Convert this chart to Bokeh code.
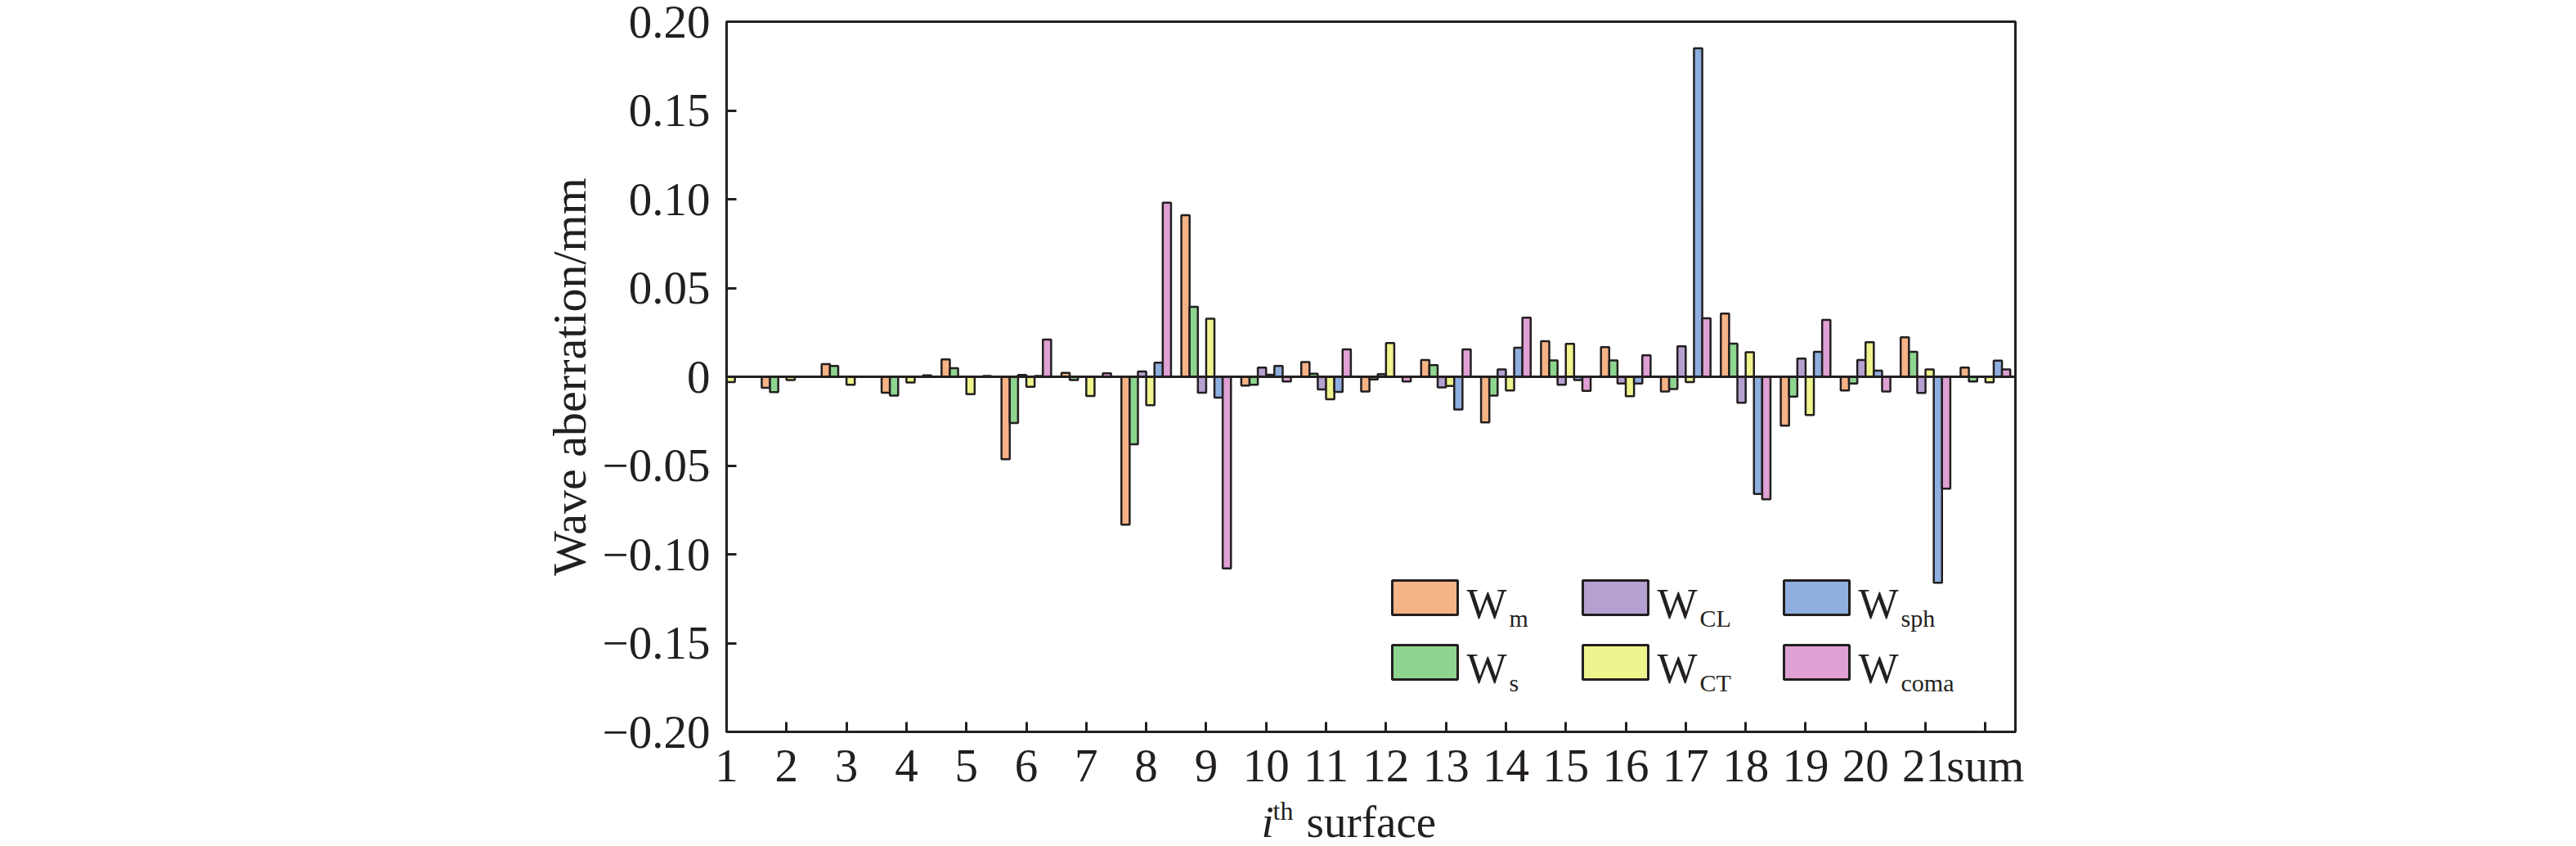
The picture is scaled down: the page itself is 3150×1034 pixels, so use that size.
from bokeh.plotting import figure
from bokeh.layouts import column
from bokeh.models import ColumnDataSource, Range1d, FixedTicker, Span, BoxAnnotation, Label
from bokeh.core.properties import value
from bokeh.transform import dodge
from bokeh.embed import file_html
from bokeh.resources import INLINE

# ---------------- data ----------------
surfaces = ["1", "2", "3", "4", "5", "6", "7", "8", "9", "10", "11", "12", "13",
            "14", "15", "16", "17", "18", "19", "20", "21", "sum"]

W_m    = [0.0, -0.0062, 0.0072, -0.0090, 0.0098, -0.0464, 0.0022, -0.0833, 0.0910, -0.0049, 0.0083,
          -0.0083, 0.0094, -0.0257, 0.0200, 0.0167, -0.0083, 0.0356, -0.0275, -0.0077, 0.0222, 0.0052]
W_s    = [0.0, -0.0086, 0.0061, -0.0106, 0.0048, -0.0260, -0.0018, -0.0380, 0.0394, -0.0045, 0.0017,
          -0.0015, 0.0066, -0.0106, 0.0092, 0.0092, -0.0069, 0.0187, -0.0112, -0.0038, 0.0141, -0.0026]
W_CL   = [0.0, 0.0, 0.0, 0.0, 0.0, 0.0010, 0.0, 0.0030, -0.0090, 0.0052, -0.0072,
          0.0015, -0.0060, 0.0041, -0.0045, -0.0038, 0.0172, -0.0146, 0.0103, 0.0094, -0.0091, 0.0]
W_CT   = [-0.0030, -0.0018, -0.0045, -0.0032, -0.0098, -0.0057, -0.0108, -0.0160, 0.0327, 0.0012, -0.0127,
          0.0190, -0.0052, -0.0077, 0.0186, -0.0110, -0.0030, 0.0138, -0.0215, 0.0195, 0.0042, -0.0031]
W_sph  = [0.0, 0.0, 0.0, 0.0, 0.0, 0.0005, 0.0, 0.0080, -0.0118, 0.0061, -0.0085,
          0.0, -0.0184, 0.0164, -0.0018, -0.0038, 0.1850, -0.0660, 0.0140, 0.0034, -0.1160, 0.0091]
W_coma = [0.0, 0.0, 0.0, 0.0008, 0.0005, 0.0210, 0.0020, 0.0980, -0.1080, -0.0026, 0.0154,
          -0.0026, 0.0154, 0.0333, -0.0080, 0.0121, 0.0329, -0.0690, 0.0320, -0.0083, -0.0630, 0.0041]

series_keys = ["W_m", "W_s", "W_CL", "W_CT", "W_sph", "W_coma"]
series_main = ["W", "W", "W", "W", "W", "W"]
series_sub = ["m", "s", "CL", "CT", "sph", "coma"]
colors = ["#F5B386", "#8ED58F", "#B5A1D1", "#EFF58E", "#8FAFE0", "#DFA0D4"]

y_ticks = [-0.2, -0.15, -0.1, -0.05, 0, 0.05, 0.1, 0.15, 0.2]
y_tick_labels = ["\u22120.20", "\u22120.15", "\u22120.10", "\u22120.05", "0", "0.05", "0.10", "0.15", "0.20"]

x_label_parts = ["i", "th", "surface"]

FONT = "Liberation Serif"
EDGE = "#231F20"
BAR_W = 0.138

pos = list(range(len(surfaces)))
source = ColumnDataSource(dict(pos=pos, W_m=W_m, W_s=W_s, W_CL=W_CL, W_CT=W_CT,
                               W_sph=W_sph, W_coma=W_coma))

# ---------------- main figure ----------------
W = 3150
H1, H2 = 974, 60
FL, FR, FT, FB = 888, 2464, 26, 894          # frame edges in page pixels
p = figure(width=W, height=H1, output_backend="svg", toolbar_location=None,
           x_range=Range1d(0, 21.5), y_range=Range1d(-0.2, 0.2),
           min_border_left=FL, min_border_right=W - FR, min_border_top=FT,
           min_border_bottom=H1 - FB)
p.background_fill_color = "white"
p.border_fill_color = "white"
p.xgrid.visible = False
p.ygrid.visible = False
p.outline_line_color = EDGE
p.outline_line_width = 3

for k, key in enumerate(series_keys):
    p.vbar(x=dodge("pos", (k - 2.5) * BAR_W, range=p.x_range), top=key, bottom=0,
           width=BAR_W, source=source, fill_color=colors[k], line_color=EDGE, line_width=2.5)

p.add_layout(Span(location=0, dimension="width", line_color=EDGE, line_width=3))

# axes
p.xaxis.ticker = FixedTicker(ticks=pos)
p.xaxis.major_label_overrides = {i: s for i, s in zip(pos, surfaces)}
p.yaxis.ticker = FixedTicker(ticks=y_ticks)
p.yaxis.major_label_overrides = {v: s for v, s in zip(y_ticks, y_tick_labels)}
for ax in (p.xaxis[0], p.yaxis[0]):
    ax.axis_line_color = EDGE
    ax.axis_line_width = 3
    ax.major_tick_line_color = EDGE
    ax.major_tick_line_width = 3
    ax.major_tick_in = 12
    ax.major_tick_out = 0
    ax.minor_tick_line_color = None
    ax.major_label_text_font = FONT
    ax.major_label_text_font_size = "57px"
    ax.major_label_text_color = EDGE
p.xaxis.major_label_standoff = 9
p.yaxis.major_label_standoff = 20
p.yaxis.axis_label = "Wave aberration/mm"
p.yaxis.axis_label_text_font = FONT
p.yaxis.axis_label_text_font_size = "58px"
p.yaxis.axis_label_text_font_style = "normal"
p.yaxis.axis_label_text_color = EDGE
p.yaxis.axis_label_standoff = 5

# helpers: page-pixel -> data coordinates of the main frame
def dx(px):
    return (px - FL) / (FR - FL) * 21.5

def dy(py):
    return 0.2 - (py - FT) / (FB - FT) * 0.4

BASE_FIX = 0.30   # baseline correction for Label annotations (fraction of font size)
GLYPH_FIX = 0.17  # baseline correction for text glyphs

# legend (3 columns x 2 rows, column-major)
col_left = [1702, 1935, 2181]
row_top = [709, 788]
patch_w, patch_h = 80, 42
for k in range(len(series_keys)):
    c, r = k // 2, k % 2
    L, T = col_left[c], row_top[r]
    p.add_layout(BoxAnnotation(left=dx(L), right=dx(L + patch_w), top=dy(T), bottom=dy(T + patch_h),
                               fill_color=colors[k], fill_alpha=1.0, line_color=EDGE,
                               line_width=3, line_alpha=1.0, level="annotation"))
    base = T + 45
    p.add_layout(Label(x=dx(L + patch_w + 11), y=dy(base - BASE_FIX * 52), text=series_main[k],
                       text_font=FONT, text_font_size="52px", text_color=EDGE,
                       text_align="left", text_baseline="alphabetic"))
    p.add_layout(Label(x=dx(L + patch_w + 63), y=dy(base + 10 - BASE_FIX * 30), text=series_sub[k],
                       text_font=FONT, text_font_size="30px", text_color=EDGE,
                       text_align="left", text_baseline="alphabetic"))

# ---------------- x-axis title strip (frame aligned with the main frame) ----------------
p2 = figure(width=W, height=H2, output_backend="svg", toolbar_location=None,
            x_range=Range1d(FL, FR), y_range=Range1d(H1 + H2, H1),
            x_axis_type=None, y_axis_type=None,
            min_border_left=FL, min_border_right=W - FR, min_border_top=0, min_border_bottom=0)
p2.outline_line_color = None
p2.xgrid.visible = False
p2.ygrid.visible = False
p2.background_fill_color = "white"
p2.border_fill_color = "white"

label_specs = [(1542, 1013, 55, "italic"), (1556, 996, 32, "normal"), (1597, 1013, 55, "normal")]
for txt, (lx, by, fs, style) in zip(x_label_parts, label_specs):
    p2.text(x=[lx], y=[by - GLYPH_FIX * fs], text=[txt], text_font=value(FONT),
            text_font_size=value(f"{fs}px"), text_font_style=value(style), text_color=EDGE,
            text_align="left", text_baseline="alphabetic")

layout = column(p, p2, spacing=0)
open("out.html", "w").write(file_html(layout, INLINE))
